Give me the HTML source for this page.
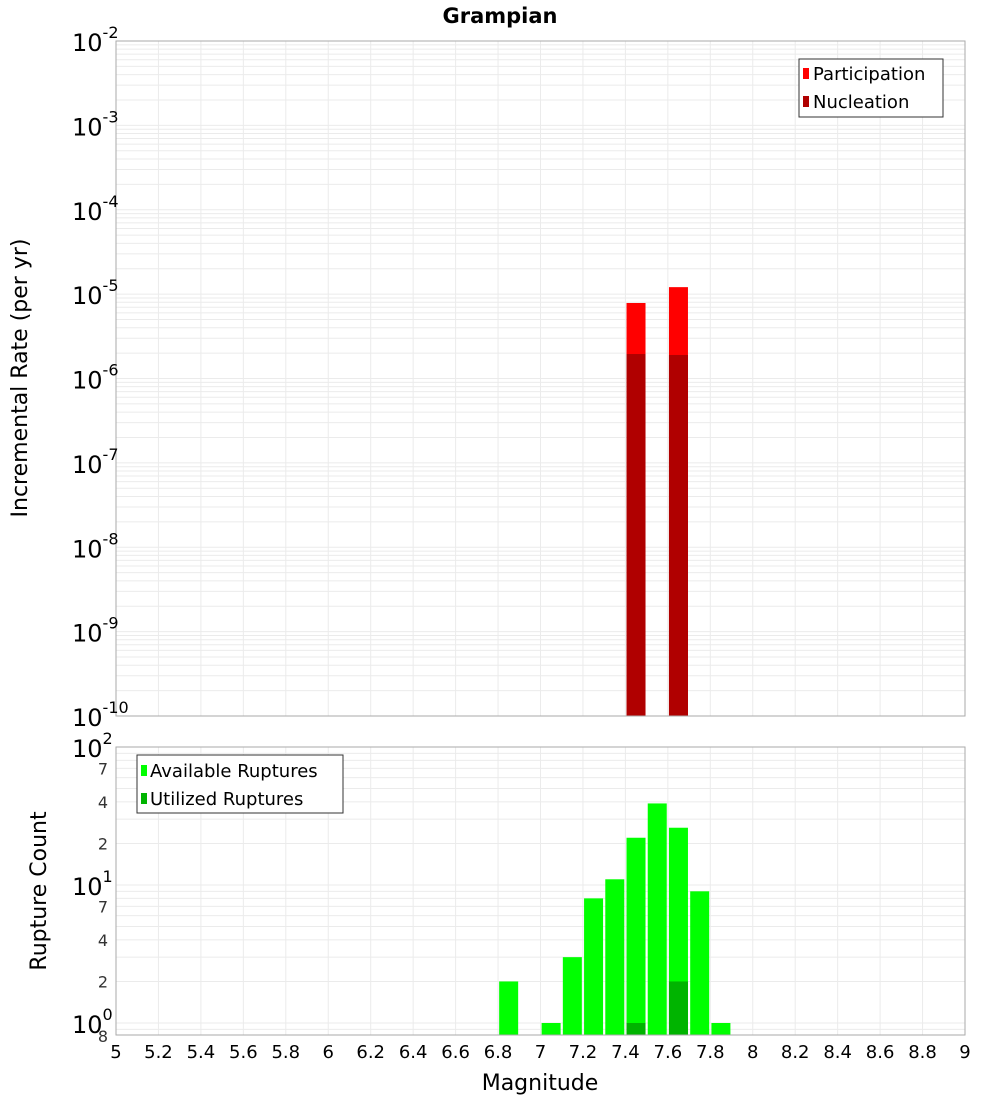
<!DOCTYPE html>
<html><head><meta charset="utf-8"><style>
html,body{margin:0;padding:0;background:#fff;}
svg{display:block;font-family:"DejaVu Sans","Liberation Sans",sans-serif;}
</style></head><body>
<svg id="chart" width="1000" height="1100" xmlns="http://www.w3.org/2000/svg">
<text x="500" y="23" text-anchor="middle" font-size="21" font-weight="bold">Grampian</text>
<g id="top"></g>
<g id="bot"></g>
<text x="0" y="0" transform="translate(27,378) rotate(-90)" text-anchor="middle" font-size="22">Incremental Rate (per yr)</text>
<text x="0" y="0" transform="translate(46,891) rotate(-90)" text-anchor="middle" font-size="22">Rupture Count</text>
<text x="540" y="1090" text-anchor="middle" font-size="22">Magnitude</text>
</svg>
<script>
const xTicks=[5,5.2,5.4,5.6,5.8,6,6.2,6.4,6.6,6.8,7,7.2,7.4,7.6,7.8,8,8.2,8.4,8.6,8.8,9];
const rateMags=[7.45,7.65];
const participation=[7.85e-6,1.21e-5];
const nucleation=[1.95e-6,1.9e-6];
const countMags=[6.85,7.05,7.15,7.25,7.35,7.45,7.55,7.65,7.75,7.85];
const available=[2,1,3,8,11,22,39,26,9,1];
const utilizedMags=[7.45,7.65];
const utilized=[1,2];
const topExps=[-2,-3,-4,-5,-6,-7,-8,-9,-10];
const botExps=[2,1,0];
const botMinor=[7,4,2];

const NS='http://www.w3.org/2000/svg';
const L=116,R=965;
const X=m=>L+(m-5)/4*(R-L);
const TT=41,TB=716;
const yT=v=>TT+(-2-Math.log10(v))*(TB-TT)/8;
const BT=747,BB=1035,DEC=138;
const yB=v=>BT+(2-Math.log10(v))*DEC;
function mk(p,tag,a,txt){const e=document.createElementNS(NS,tag);for(const k in a)e.setAttribute(k,a[k]);if(txt!==undefined)e.textContent=txt;p.appendChild(e);return e;}
const topG=document.getElementById('top'),botG=document.getElementById('bot');

for(let d=-10;d<-2;d++){for(let k=1;k<10;k++){const y=yT(k*Math.pow(10,d));
const g=mk(topG,'line',{x1:L,x2:R,y1:y,y2:y,stroke:'#ebebeb','stroke-width':1});

}}
for(const t of xTicks){const g=mk(topG,'line',{x1:X(t),x2:X(t),y1:TT,y2:TB,stroke:'#ebebeb'});


const g2=mk(botG,'line',{x1:X(t),x2:X(t),y1:BT,y2:BB,stroke:'#ebebeb'});

}
for(let d=-1;d<2;d++){for(let k=1;k<10;k++){const v=k*Math.pow(10,d);const y=yB(v);if(y>BB||y<BT)continue;
const g=mk(botG,'line',{x1:L,x2:R,y1:y,y2:y,stroke:'#ebebeb'});

}}

const bw=19;
rateMags.forEach((m,i)=>{
const r=mk(topG,'rect',{x:X(m)-bw/2,y:yT(participation[i]),width:bw,height:TB-yT(participation[i]),fill:'#ff0000'});


const n=mk(topG,'rect',{x:X(m)-bw/2,y:yT(nucleation[i]),width:bw,height:TB-yT(nucleation[i]),fill:'#b00000'});

});
countMags.forEach((m,i)=>{
const r=mk(botG,'rect',{x:X(m)-bw/2,y:yB(available[i]),width:bw,height:BB-yB(available[i]),fill:'#00ff00'});

});
utilizedMags.forEach((m,i)=>{
const r=mk(botG,'rect',{x:X(m)-bw/2,y:yB(utilized[i]),width:bw,height:BB-yB(utilized[i]),fill:'#00b400'});

});

const f1=mk(topG,'rect',{x:L,y:TT,width:R-L,height:TB-TT,fill:'none',stroke:'#aaa'});


const f2=mk(botG,'rect',{x:L,y:BT,width:R-L,height:BB-BT,fill:'none',stroke:'#aaa'});



topExps.forEach(e=>{const y=yT(Math.pow(10,e));
const t=mk(topG,'text',{x:72,y:y+10,'font-size':24});


mk(t,'tspan',{},'10');mk(t,'tspan',{dy:-13,'font-size':16},String(e));});
botExps.forEach(e=>{const y=yB(Math.pow(10,e));
const t=mk(botG,'text',{x:72,y:y+10,'font-size':24});


mk(t,'tspan',{},'10');mk(t,'tspan',{dy:-13,'font-size':16},String(e));});
for(let d=0;d<2;d++){botMinor.forEach(k=>{const y=yB(k*Math.pow(10,d));
const t=mk(botG,'text',{x:108,y:y+6,'font-size':16,'text-anchor':'end',fill:'#333'},String(k));

});}
const t8=mk(botG,'text',{x:108,y:1042,'font-size':16,'text-anchor':'end',fill:'#333'},'8');


xTicks.forEach(t=>{const e=mk(botG,'text',{x:X(t),y:1058,'font-size':18,'text-anchor':'middle'},String(t));

});

const lg1=mk(topG,'g',{});


mk(lg1,'rect',{x:799,y:59,width:144,height:58,fill:'#fff',stroke:'#333'});
mk(lg1,'rect',{x:803,y:68,width:6,height:11,fill:'#ff0000'});
mk(lg1,'text',{x:813,y:80,'font-size':18},'Participation');
mk(lg1,'rect',{x:803,y:96,width:6,height:11,fill:'#b00000'});
mk(lg1,'text',{x:813,y:108,'font-size':18},'Nucleation');
const lg2=mk(botG,'g',{});


mk(lg2,'rect',{x:137,y:755,width:206,height:58,fill:'#fff',stroke:'#333'});
mk(lg2,'rect',{x:141,y:765,width:6,height:11,fill:'#00ff00'});
mk(lg2,'text',{x:150,y:777,'font-size':18},'Available Ruptures');
mk(lg2,'rect',{x:141,y:793,width:6,height:11,fill:'#00b400'});
mk(lg2,'text',{x:150,y:805,'font-size':18},'Utilized Ruptures');
</script>
</body></html>
